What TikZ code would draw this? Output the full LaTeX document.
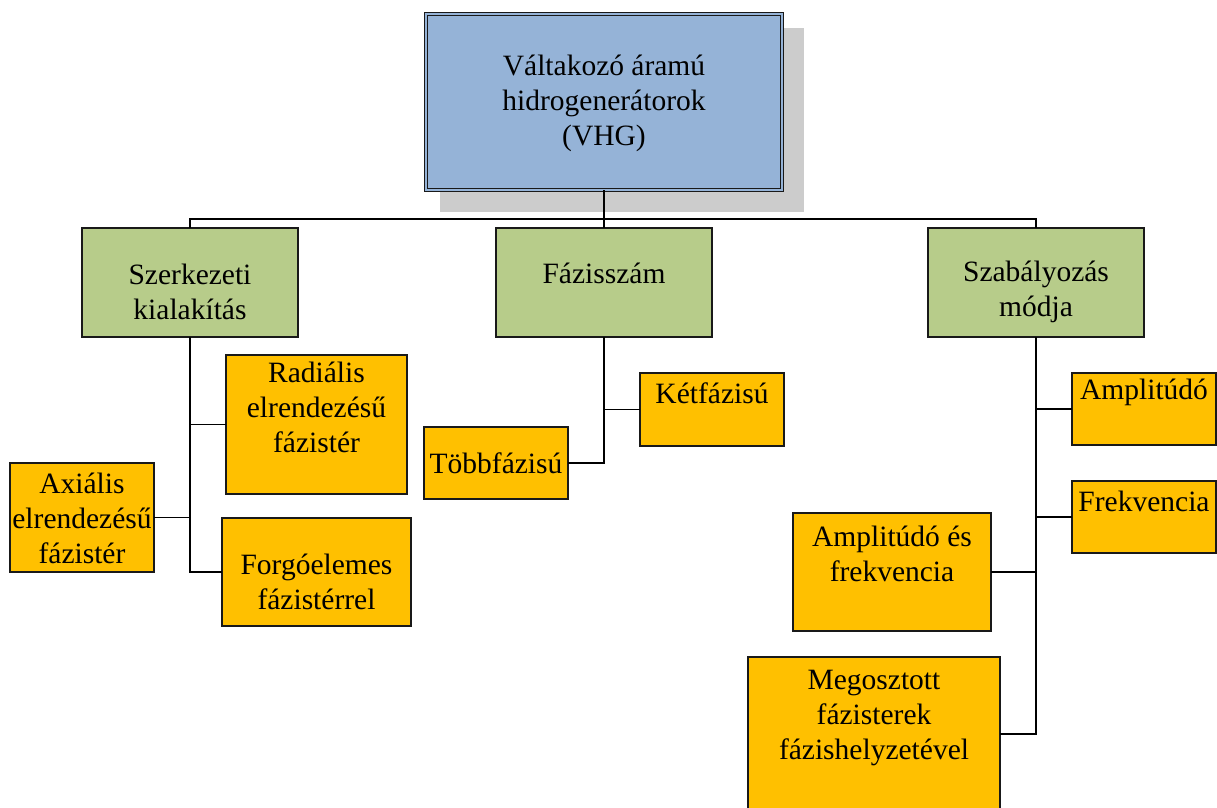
\documentclass[tikz,border=0pt]{standalone}
\usepackage{fontspec}
\setmainfont{Liberation Serif}
\usetikzlibrary{calc}
\definecolor{vhgblue}{HTML}{95B3D7}
\definecolor{grpgreen}{HTML}{B7CC8A}
\definecolor{leafgold}{HTML}{FFC000}
\definecolor{shadowgrey}{HTML}{CCCCCC}
\begin{document}
\begin{tikzpicture}[x=1pt,y=-1pt,
  box/.style={draw=black!90, line width=1.5pt, anchor=north west, inner sep=0pt, outer sep=0pt},
  grp/.style={box, fill=grpgreen},
  leaf/.style={box, fill=leafgold},
  lbl/.style={align=center, font=\fontsize{29.5}{35}\selectfont, inner sep=0pt},
  conn/.style={line width=1.5pt, draw=black}]
\useasboundingbox (0,0) rectangle (1217,807);
% top box with shadow
\fill[shadowgrey] (440,28) rectangle (804,212);
\node[box, fill=vhgblue, draw=black!90, line width=1.2pt, double=vhgblue, double distance=2pt,
  minimum width=356pt, minimum height=176pt] (vhg) at (426,14) {};
\node[lbl] (vhgt) at (604,103) {Váltakozó áramú\\hidrogenerátorok\\(VHG)};
% group boxes
\node[grp, minimum width=216pt, minimum height=109pt] (szk) at (82,228) {};
\node[lbl] (szkt) at (190,291.5) {Szerkezeti\\kialakítás};
\node[grp, minimum width=216pt, minimum height=109pt] (fsz) at (496,228) {};
\node[lbl] (fszt) at (604,273) {Fázisszám};
\node[grp, minimum width=216pt, minimum height=109pt] (szb) at (928,228) {};
\node[lbl] (szbt) at (1036,292) {Szabályozás\\módja};
% leaves: Szerkezeti
\node[leaf, minimum width=181pt, minimum height=139pt] (rad) at (226,355) {};
\node[lbl] (radt) at (316.5,407) {Radiális\\elrendezésű\\fázistér};
\node[leaf, minimum width=144pt, minimum height=109pt] (axi) at (10,463) {};
\node[lbl] (axit) at (82,518) {Axiális\\elrendezésű\\fázistér};
\node[leaf, minimum width=189pt, minimum height=108pt] (forg) at (222,518) {};
\node[lbl] (forgt) at (316.5,582) {Forgóelemes\\fázistérrel};
% leaves: Fázisszám
\node[leaf, minimum width=144pt, minimum height=73pt] (ket) at (640,373) {};
\node[lbl] (kett) at (712,393) {Kétfázisú};
\node[leaf, minimum width=144pt, minimum height=72pt] (tobb) at (424,427) {};
\node[lbl] (tobbt) at (496,463) {Többfázisú};
% leaves: Szabályozás
\node[leaf, minimum width=144pt, minimum height=72pt] (amp) at (1072,373) {};
\node[lbl] (ampt) at (1144,392) {Amplitúdó};
\node[leaf, minimum width=144pt, minimum height=72pt] (frek) at (1072,481) {};
\node[lbl] (frekt) at (1144,501) {Frekvencia};
\node[leaf, minimum width=198pt, minimum height=118pt] (af) at (793,513) {};
\node[lbl] (aft) at (892,554) {Amplitúdó és\\frekvencia};
\node[leaf, minimum width=252pt, minimum height=154pt] (meg) at (748,657) {};
\node[lbl] (megt) at (874,718) {Megosztott\\fázisterek\\fázishelyzetével};
% connectors
\coordinate (bus) at (604,219);
\draw[conn] (szk.north) |- (bus) -| (szb.north);
\draw[conn] (vhg.south) -- (fsz.north);
\draw[conn] (szk.south) |- (forg.west);
\draw[conn] (rad.west) -- (rad.west -| szk.south);
\draw[conn] (axi.east) -- (axi.east -| szk.south);
\draw[conn] (fsz.south) |- (tobb.east);
\draw[conn] (ket.west) -- (ket.west -| fsz.south);
\draw[conn] (szb.south) |- (meg.east);
\draw[conn] (amp.west) -- (amp.west -| szb.south);
\draw[conn] (frek.west) -- (frek.west -| szb.south);
\draw[conn] (af.east) -- (af.east -| szb.south);
\end{tikzpicture}
\end{document}
